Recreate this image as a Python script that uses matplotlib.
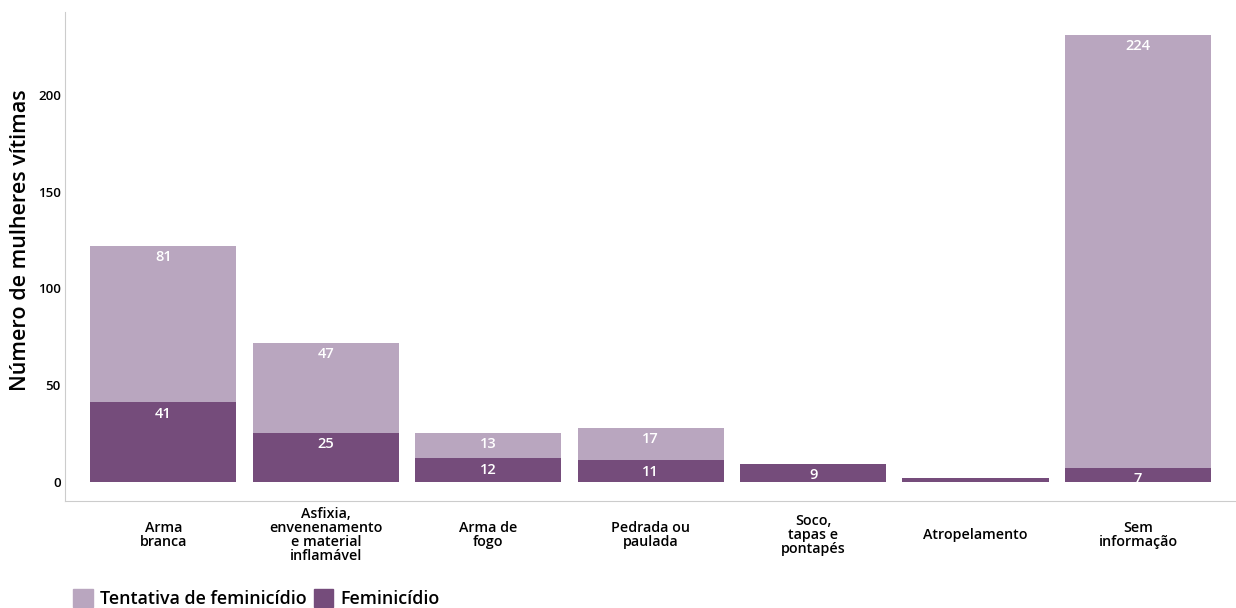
import matplotlib.pyplot as plt
import matplotlib.transforms as mtransforms
from matplotlib.patches import Patch
import numpy as np

plt.rcParams['font.family'] = ['Open Sans', 'DejaVu Sans']

categories = ["Arma\nbranca", "Asfixia,\nenvenenamento\ne material\ninflamável",
              "Arma de\nfogo", "Pedrada ou\npaulada", "Soco,\ntapas e\npontapés",
              "Atropelamento", "Sem\ninformação"]
feminicidio = [41, 25, 12, 11, 9, 2, 7]
tentativa = [81, 47, 13, 17, 0, 0, 224]

c_light = "#b9a6bf"
c_dark = "#754c7b"

fig = plt.figure(figsize=(12.36, 6.08), dpi=100)
ax = fig.add_axes([0.0526, 0.176, 0.947, 0.804])

x = np.arange(len(categories))
ax.bar(x, feminicidio, width=0.9, color=c_dark)
ax.bar(x, tentativa, width=0.9, bottom=feminicidio, color=c_light)

for i in range(len(x)):
    f, t = feminicidio[i], tentativa[i]
    if f >= 5:
        ax.annotate(str(f), (x[i], f), xytext=(0, -8), textcoords="offset points",
                    ha="center", va="center", color="white", fontsize=10.5, fontweight="semibold")
    if t > 0:
        ax.annotate(str(t), (x[i], f + t), xytext=(0, -8), textcoords="offset points",
                    ha="center", va="center", color="white", fontsize=10.5, fontweight="semibold")

ax.set_xlim(-0.605, 6.6)
ax.set_ylim(-10, 243)
ax.set_xticks([])
ax.set_yticks([0, 50, 100, 150, 200])
ax.tick_params(axis="y", length=0, pad=3, labelsize=9.5)
for lab in ax.get_yticklabels():
    lab.set_fontweight("semibold")

trans = mtransforms.blended_transform_factory(ax.transData, ax.transAxes)
for i, c in enumerate(categories):
    ax.text(x[i], -0.07, c, transform=trans, ha="center", va="center",
            fontsize=10.3, fontweight="semibold", linespacing=1.0)

ax.set_ylabel("Número de mulheres vítimas", fontsize=15.5, fontweight="semibold")
ax.yaxis.set_label_coords(-0.029, 0.534)

for s in ["top", "right"]:
    ax.spines[s].set_visible(False)
for s in ["left", "bottom"]:
    ax.spines[s].set_color("#cccccc")

handles = [Patch(color=c_light, label="Tentativa de feminicídio"),
           Patch(color=c_dark, label="Feminicídio")]
fig.legend(handles=handles, loc="lower left", bbox_to_anchor=(0.059, 0.0), ncol=2,
           frameon=False, prop={"size": 12.9, "weight": "semibold"},
           borderpad=0, borderaxespad=0,
           handlelength=1.1, handleheight=1.1, handletextpad=0.4, columnspacing=0.4)

fig.savefig("out.png", dpi=100)
